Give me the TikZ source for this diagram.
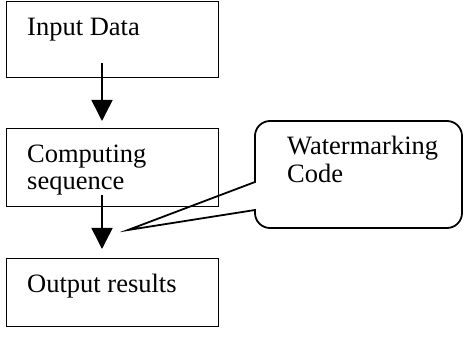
\documentclass[tikz,border=0pt]{standalone}
\usepackage{fontspec}
\setmainfont{Liberation Serif}
\usetikzlibrary{arrows.meta}
\begin{document}
\begin{tikzpicture}[x=1pt,y=-1pt,
  box/.style={draw,line width=1.3pt,minimum width=212pt,inner sep=0pt,anchor=north west},
  lbl/.style={anchor=base west,inner sep=0pt,font=\fontsize{26.5}{28}\selectfont},
  arr/.style={line width=1.5pt,-{Triangle[width=21pt,length=21pt]}},
  callout/.style={line width=1.8pt}]
\useasboundingbox (0,0) rectangle (464,339);
\node[box,minimum height=76pt] (in1) at (6,1) {};
\node[box,minimum height=78pt] (cs) at (6,128) {};
\node[box,minimum height=68pt] (out) at (6,258) {};
\node[lbl] (t1) at (27,36) {Input Data};
\node[lbl] (t2) at (27,163) {Computing};
\node[lbl] (t3) at (27,190) {sequence};
\node[lbl] (t4) at (27,293) {Output results};
\node[lbl] (t5) at (287,155) {Watermarking};
\node[lbl] (t6) at (287,183) {Code};
\coordinate (a1s) at (102,63);
\coordinate (a2s) at (102,195);
\draw[arr] (a1s) -- ([yshift=7pt]cs.north -| a1s);
\draw[arr] (a2s) -- ([yshift=9pt]out.north -| a2s);
\coordinate (tip) at (128,230);
\draw[callout] (255,182) [rounded corners=15pt] -- (255,121) -- (462,121) -- (462,228) -- (255,228) [sharp corners] -- (255,210) -- (tip) -- cycle;
\end{tikzpicture}
\end{document}
